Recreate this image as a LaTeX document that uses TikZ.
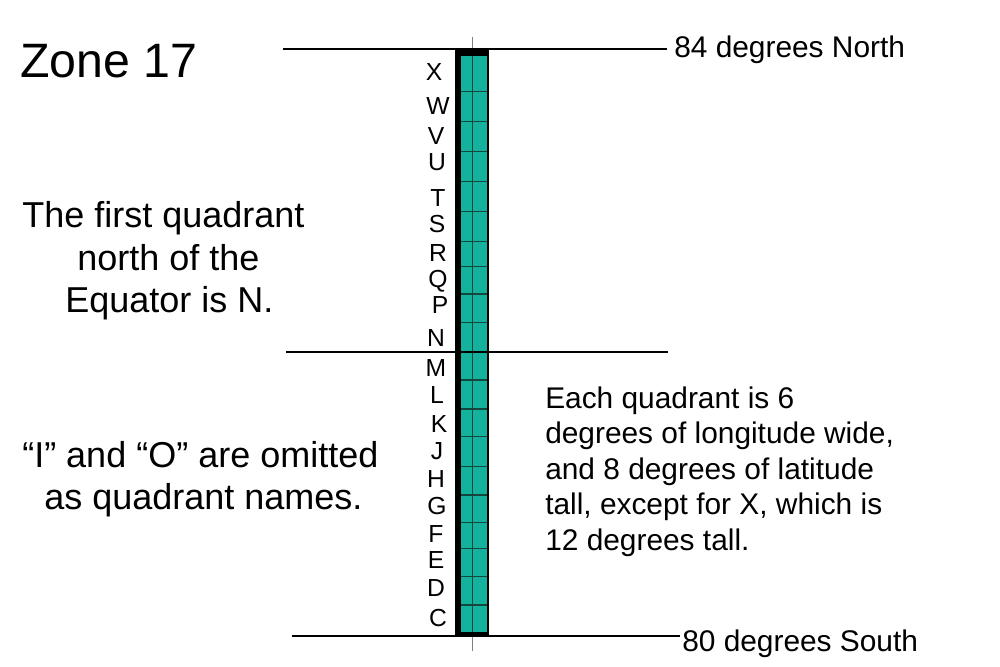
\documentclass[tikz,border=0pt]{standalone}
\usepackage{fontspec}
\setmainfont{Liberation Sans}
\definecolor{teal1}{RGB}{20,178,156}
\definecolor{gridc}{RGB}{20,70,62}
\begin{document}
\begin{tikzpicture}[x=0.75pt,y=-0.75pt,
  bigtxt/.style={font=\fontsize{36.2pt}{40pt}\selectfont,anchor=base west,inner sep=0pt},
  lefttxt/.style={font=\fontsize{27pt}{32pt}\selectfont,anchor=base west,inner sep=0pt},
  righttxt/.style={font=\fontsize{22.4pt}{26.6pt}\selectfont,anchor=base west,inner sep=0pt},
  lettertxt/.style={font=\fontsize{18.5pt}{20pt}\selectfont,anchor=base,inner sep=0pt},
  latline/.style={line width=1.5pt,black},
  tick/.style={line width=0.6pt,gray}]
\useasboundingbox (0,0) rectangle (1000,667);
% bar
\fill[black] (455,50) rectangle (489.3,636);
\fill[teal1] (461,56) rectangle (486.5,631.5);
\foreach \yy in {91.7,121.7,151.7,181.7,211.7,241.7,266.7,294,322.7,352,380,409,436.7,466.7,495,522.7,548.3,576.7,605}
  \draw[gridc,line width=0.8pt] (461,\yy) -- (486.5,\yy);
\draw[gridc,line width=0.8pt] (472.7,56) -- (472.7,631.5);
% ticks
\coordinate (tt1) at (472.7,37);
\coordinate (tt2) at (472.7,49);
\coordinate (bt1) at (472.7,636);
\coordinate (bt2) at (472.7,651);
\draw[tick] (tt1) -- (tt2);
\draw[tick] (bt1) -- (bt2);
% latitude lines
\coordinate (n1) at (283,49.3);
\coordinate (n2) at (667,49.3);
\coordinate (e1) at (286,352);
\coordinate (e2) at (668,352);
\coordinate (s1) at (292,636);
\coordinate (s2) at (680,636);
\draw[latline] (n1) -- (n2);
\draw[latline] (e1) -- (e2);
\draw[latline] (s1) -- (s2);
% labels
\node[righttxt] (north) at (674,58) {84 degrees North};
\node[righttxt] (south) at (682,651) {80 degrees South};
\node[bigtxt] (zone) at (20,78) {Zone 17};
\node[lefttxt] (q1) at (22,227) {The first quadrant};
\node[lefttxt] (q2) at (77,270) {north of the};
\node[lefttxt] (q3) at (65,312) {Equator is N.};
\node[lefttxt] (o1) at (22,467) {“I” and “O” are omitted};
\node[lefttxt] (o2) at (44,509) {as quadrant names.};
\node[righttxt] (r1) at (545,408) {Each quadrant is 6};
\node[righttxt] (r2) at (545,443.5) {degrees of longitude wide,};
\node[righttxt] (r3) at (545,479) {and 8 degrees of latitude};
\node[righttxt] (r4) at (545,514.5) {tall, except for X, which is};
\node[righttxt] (r5) at (545,550) {12 degrees tall.};
% quadrant letters
\foreach \L/\xx/\yy in {X/434/81, W/438/115, V/436/144, U/437/171, T/438/206, S/437/232, R/438/261, Q/438/287, P/440/313, N/436/346, M/436/376, L/437/403, K/439/432, J/437/459, H/436/487, G/437/514, F/436/542, E/436/568, D/436/596, C/438/626}
  \node[lettertxt] (lab\L) at (\xx,\yy) {\L};
\end{tikzpicture}
\end{document}
